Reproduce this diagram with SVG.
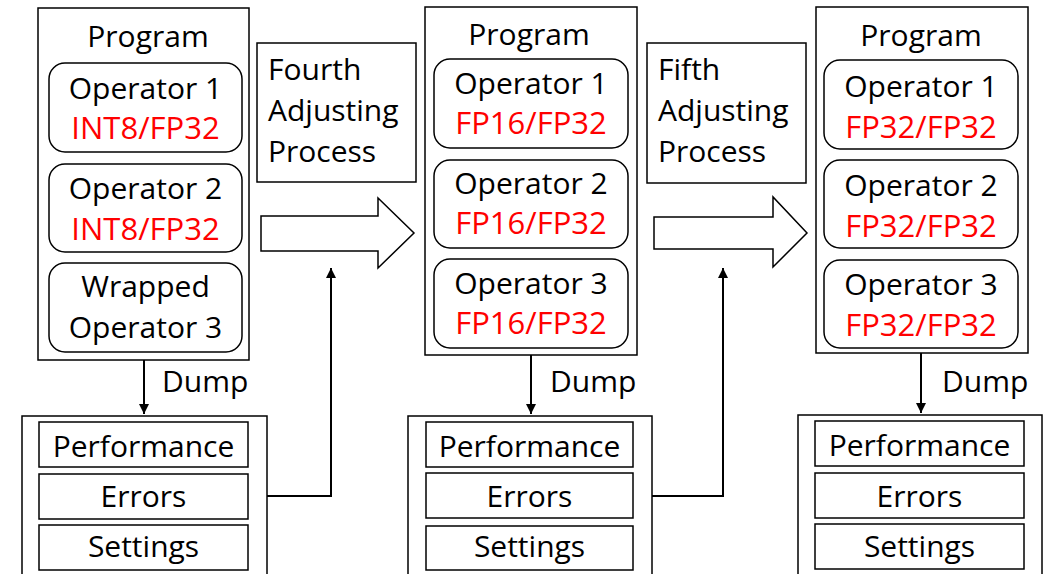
<svg xmlns="http://www.w3.org/2000/svg" width="1056" height="574" viewBox="0 0 1056 574">
<defs>
<style>
.box{fill:#fff;stroke:#000;stroke-width:1.5}
.op{fill:#fff;stroke:#000;stroke-width:1.5}
.t{font-family:"Open Sans","Noto Sans",sans-serif;font-size:30px;fill:#000}
.c{text-anchor:middle}
.r{fill:#ff0000;font-size:31px}
.ln{fill:none;stroke:#000;stroke-width:2}
.blk{fill:#fff;stroke:#000;stroke-width:1.5;stroke-linejoin:miter}
</style>
<marker id="ah" viewBox="0 0 10 10" refX="10" refY="5" markerWidth="5" markerHeight="5" orient="auto" markerUnits="strokeWidth">
<path d="M0,0 L10,5 L0,10 z" fill="#000"/>
</marker>
</defs>
<rect width="1056" height="574" fill="#fff"/>

<g id="program1">
<rect class="box" x="38" y="8" width="211" height="352"/>
<text class="t c" x="148" y="47">Program</text>
<rect class="op" x="49" y="63" width="193" height="89" rx="16"/>
<text class="t c" x="145.5" y="99">Operator 1</text>
<text class="t c r" x="145.5" y="139">INT8/FP32</text>
<rect class="op" x="49" y="164" width="193" height="88" rx="16"/>
<text class="t c" x="145.5" y="199">Operator 2</text>
<text class="t c r" x="145.5" y="240">INT8/FP32</text>
<rect class="op" x="49" y="263" width="193" height="89" rx="16"/>
<text class="t c" x="145.5" y="297">Wrapped</text>
<text class="t c" x="145.5" y="338">Operator 3</text>
</g>

<g id="dump1">
<rect class="box" x="22" y="416" width="245" height="170"/>
<rect class="box" x="39" y="422" width="209" height="45"/>
<text class="t c" x="143.5" y="457">Performance</text>
<rect class="box" x="39" y="474" width="209" height="45"/>
<text class="t c" x="143.5" y="507">Errors</text>
<rect class="box" x="39" y="525" width="209" height="45"/>
<text class="t c" x="143.5" y="557">Settings</text>
</g>

<g id="fourth">
<rect class="box" x="257" y="43" width="159" height="139"/>
<text class="t" x="268" y="80">Fourth</text>
<text class="t" x="268" y="121">Adjusting</text>
<text class="t" x="268" y="162">Process</text>
</g>

<g id="program2">
<rect class="box" x="425" y="7" width="212" height="348"/>
<text class="t c" x="529" y="45">Program</text>
<rect class="op" x="434" y="59" width="194" height="89" rx="16"/>
<text class="t c" x="531" y="94">Operator 1</text>
<text class="t c r" x="531" y="134">FP16/FP32</text>
<rect class="op" x="434" y="160" width="194" height="88" rx="16"/>
<text class="t c" x="531" y="194">Operator 2</text>
<text class="t c r" x="531" y="234">FP16/FP32</text>
<rect class="op" x="434" y="259" width="194" height="89" rx="16"/>
<text class="t c" x="531" y="294">Operator 3</text>
<text class="t c r" x="531" y="334">FP16/FP32</text>
</g>

<g id="dump2">
<rect class="box" x="408" y="416" width="244" height="170"/>
<rect class="box" x="426" y="422" width="207" height="45"/>
<text class="t c" x="529.5" y="457">Performance</text>
<rect class="box" x="426" y="473" width="207" height="45"/>
<text class="t c" x="529.5" y="507">Errors</text>
<rect class="box" x="426" y="526" width="207" height="44"/>
<text class="t c" x="529.5" y="557">Settings</text>
</g>

<g id="fifth">
<rect class="box" x="647" y="43" width="159" height="140"/>
<text class="t" x="658" y="80">Fifth</text>
<text class="t" x="658" y="121">Adjusting</text>
<text class="t" x="658" y="162">Process</text>
</g>

<g id="program3">
<rect class="box" x="816" y="7" width="212" height="346"/>
<text class="t c" x="921" y="46">Program</text>
<rect class="op" x="824" y="60" width="194" height="89" rx="16"/>
<text class="t c" x="921" y="97">Operator 1</text>
<text class="t c r" x="921" y="138">FP32/FP32</text>
<rect class="op" x="824" y="160" width="194" height="88" rx="16"/>
<text class="t c" x="921" y="196">Operator 2</text>
<text class="t c r" x="921" y="237">FP32/FP32</text>
<rect class="op" x="824" y="260" width="194" height="88" rx="16"/>
<text class="t c" x="921" y="295">Operator 3</text>
<text class="t c r" x="921" y="336">FP32/FP32</text>
</g>

<g id="dump3">
<rect class="box" x="798" y="415" width="244" height="170"/>
<rect class="box" x="815" y="421" width="209" height="45"/>
<text class="t c" x="919.5" y="456">Performance</text>
<rect class="box" x="815" y="473" width="209" height="45"/>
<text class="t c" x="919.5" y="507">Errors</text>
<rect class="box" x="815" y="524" width="209" height="45"/>
<text class="t c" x="919.5" y="557">Settings</text>
</g>

<g id="connectors">
<polygon class="blk" points="261,216 378,216 378,198 414,233 378,268 378,251 261,251"/>
<polygon class="blk" points="654,217 773,217 773,197 807,233 773,267 773,249 654,249"/>
<line class="ln" x1="144" y1="360" x2="144" y2="414" marker-end="url(#ah)"/>
<line class="ln" x1="531" y1="355" x2="531" y2="414" marker-end="url(#ah)"/>
<line class="ln" x1="921" y1="353" x2="921" y2="413" marker-end="url(#ah)"/>
<polyline class="ln" points="267,496 331,496 331,268" marker-end="url(#ah)"/>
<polyline class="ln" points="652,496 723,496 723,268" marker-end="url(#ah)"/>
<text class="t" x="162" y="392">Dump</text>
<text class="t" x="550" y="392">Dump</text>
<text class="t" x="942" y="392">Dump</text>
</g>
</svg>
